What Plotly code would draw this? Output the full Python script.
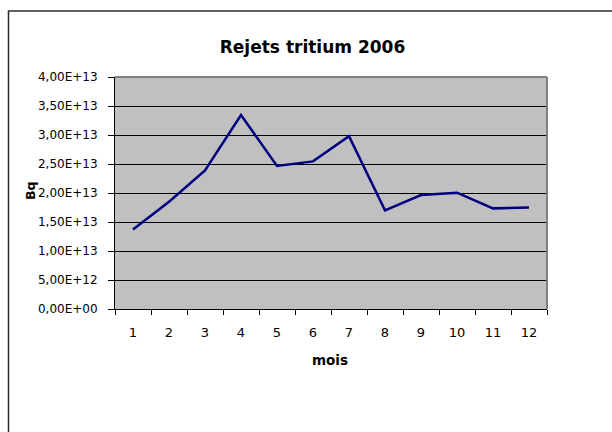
import plotly.graph_objects as go

months = [1, 2, 3, 4, 5, 6, 7, 8, 9, 10, 11, 12]
month_labels = ["1", "2", "3", "4", "5", "6", "7", "8", "9", "10", "11", "12"]
tritium_bq = [1.37e13, 1.85e13, 2.39e13, 3.345e13, 2.465e13, 2.545e13,
              2.98e13, 1.70e13, 1.965e13, 2.005e13, 1.735e13, 1.75e13]
y_tick_vals = [0, 5e12, 1e13, 1.5e13, 2e13, 2.5e13, 3e13, 3.5e13, 4e13]
y_tick_text = ["0,00E+00", "5,00E+12", "1,00E+13", "1,50E+13", "2,00E+13",
               "2,50E+13", "3,00E+13", "3,50E+13", "4,00E+13"]
title_text = "Rejets tritium 2006"
x_title = "mois"
y_title = "Bq"

W, H = 612, 432
L, R, T, B = 115, 547, 77, 309
pw, ph = R - L, B - T


def px(x):
    return (x - L) / pw


def py(y):
    return (B - y) / ph


FONT = "DejaVu Sans"

fig = go.Figure()
fig.add_trace(go.Scatter(
    x=months, y=tritium_bq, mode="lines",
    line=dict(color="#000080", width=2.5),
    showlegend=False, hoverinfo="skip",
))

fig.update_layout(
    width=W, height=H,
    margin=dict(l=L, r=W - R, t=T, b=H - B, pad=0),
    paper_bgcolor="white",
    plot_bgcolor="#c0c0c0",
    font=dict(family=FONT, color="black", size=12),
    title=dict(text="<b>" + title_text + "</b>", xref="container", yref="container",
               x=312.5 / W, y=1 - 47 / H, xanchor="center", yanchor="middle",
               font=dict(family=FONT, size=17, color="black")),
    xaxis=dict(
        range=[0.5, 12.5], tickmode="array", tickvals=months, ticktext=month_labels,
        ticks="outside", ticklen=11, tickcolor="rgba(0,0,0,0)",
        tickfont=dict(family=FONT, size=13, color="black"),
        showgrid=False, zeroline=False,
        showline=True, linecolor="black", linewidth=1,
        minor=dict(tick0=0.5, dtick=1, ticks="outside", ticklen=5,
                   tickcolor="black", tickwidth=1, showgrid=False),
    ),
    yaxis=dict(
        range=[0, 4e13], tickmode="array", tickvals=y_tick_vals, ticktext=y_tick_text,
        ticks="outside", ticklen=6, tickcolor="black", tickwidth=1,
        ticklabelstandoff=8,
        tickfont=dict(family=FONT, size=12, color="black"),
        showgrid=True, gridcolor="black", gridwidth=1, zeroline=False,
        showline=True, linecolor="black", linewidth=1,
    ),
    shapes=[
        dict(type="line", xref="paper", yref="paper", x0=0, x1=1, y0=1, y1=1,
             line=dict(color="#808080", width=2)),
        dict(type="line", xref="paper", yref="paper", x0=1, x1=1, y0=0, y1=1,
             line=dict(color="#808080", width=2)),
        dict(type="rect", xref="paper", yref="paper",
             x0=px(8.5), x1=px(640), y0=py(11), y1=py(460),
             line=dict(color="#2b2b2b", width=1.5), fillcolor="rgba(0,0,0,0)",
             layer="above"),
    ],
    annotations=[
        dict(text="<b>" + x_title + "</b>", xref="paper", yref="paper",
             x=px(330), y=py(360), xanchor="center", yanchor="middle",
             showarrow=False, font=dict(family=FONT, size=13.5, color="black")),
        dict(text="<b>" + y_title + "</b>", xref="paper", yref="paper",
             x=px(30), y=py(191), xanchor="center", yanchor="middle", textangle=-90,
             showarrow=False, font=dict(family=FONT, size=12.5, color="black")),
    ],
)

fig.write_html("out.html", config={"displayModeBar": False},
               post_script="document.body.style.margin='0';document.body.style.padding='0';")
